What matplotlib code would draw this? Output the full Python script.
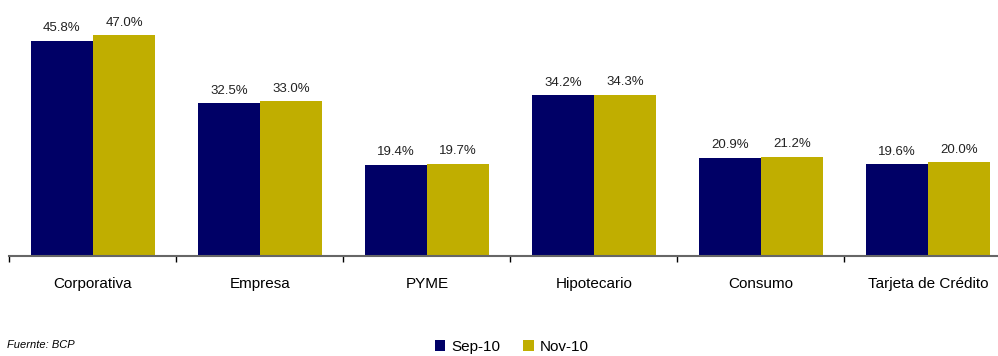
import numpy as np
import matplotlib.pyplot as plt

plt.rcParams['font.family'] = ['Liberation Sans', 'DejaVu Sans']

# Cartera por segmento
categorias = ['Corporativa', 'Empresa', 'PYME', 'Hipotecario', 'Consumo', 'Tarjeta de Crédito']
sep_10 = [45.8, 32.5, 19.4, 34.2, 20.9, 19.6]
nov_10 = [47.0, 33.0, 19.7, 34.3, 21.2, 20.0]
series = ['Sep-10', 'Nov-10']

azul = '#000066'
oro = '#C0AE00'

fig = plt.figure(figsize=(9.98, 3.56), dpi=100)
ax = fig.add_axes([0.0095, 0.28, 1.004, 0.72])

x = np.arange(len(categorias))
w = 0.372
b1 = ax.bar(x - w / 2, sep_10, w, color=azul, label=series[0])
b2 = ax.bar(x + w / 2, nov_10, w, color=oro, label=series[1])

for bars, vals in ((b1, sep_10), (b2, nov_10)):
    for r, v in zip(bars, vals):
        ax.text(r.get_x() + r.get_width() / 2, v + 1.4, f'{v:.1f}%',
                ha='center', va='bottom', fontsize=9.5, color='#222222')

ax.set_xlim(-0.5, len(categorias) - 0.5)
ax.set_ylim(0, 54.5)
ax.set_yticks([])
for s in ('top', 'right', 'left'):
    ax.spines[s].set_visible(False)
ax.spines['bottom'].set_color('#666666')
ax.spines['bottom'].set_linewidth(1.5)

# etiquetas en el centro, marcas entre categorias
ax.set_xticks(x)
ax.set_xticklabels(categorias, fontsize=11)
ax.tick_params(axis='x', which='major', length=0, pad=15)
ax.set_xticks(np.arange(len(categorias) + 1) - 0.5, minor=True)
ax.tick_params(axis='x', which='minor', length=4, color='black', width=1)

fig.legend(handles=[b1, b2], labels=series, loc='center', ncol=2,
           bbox_to_anchor=(0.513, 0.025), frameon=False, fontsize=11,
           handlelength=0.7, handleheight=0.7, handletextpad=0.4, columnspacing=1.5)

fig.text(0.007, 0.03, 'Fuernte: BCP', fontsize=8, style='italic', va='center')

fig.savefig('out.png', dpi=100)
